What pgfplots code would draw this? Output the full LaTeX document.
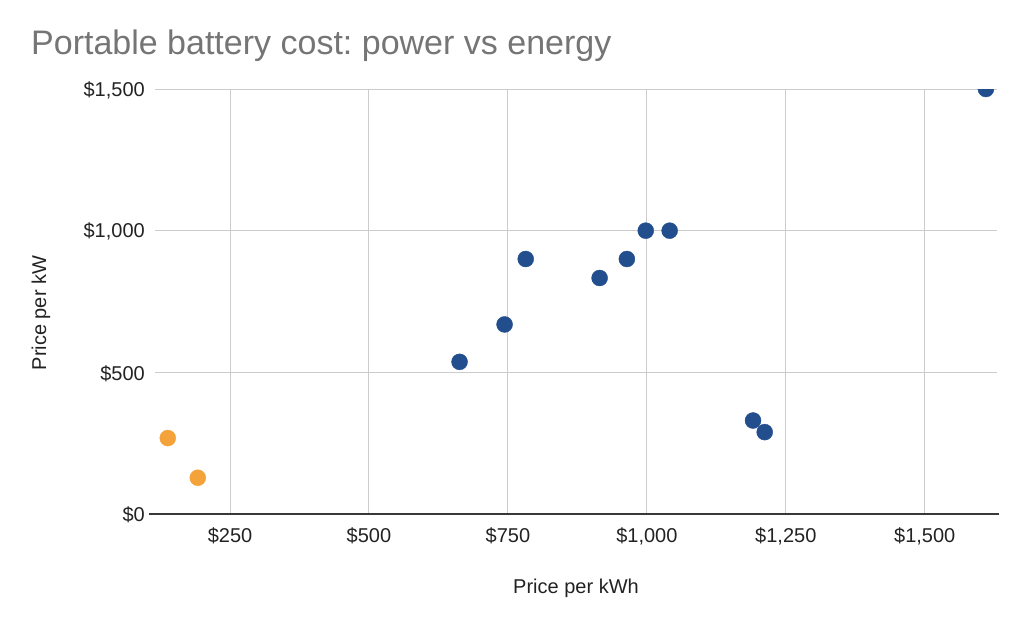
\documentclass[border=0pt]{standalone}
\usepackage{fontspec}
\setmainfont{Liberation Sans}
\usepackage{pgfplots}
\pgfplotsset{compat=1.18}
\frenchspacing
\definecolor{seriesblue}{HTML}{224E8E}
\definecolor{seriesorange}{HTML}{F3A33A}
\definecolor{gridgray}{HTML}{CCCCCC}
\definecolor{titlegray}{HTML}{757575}
\definecolor{textdark}{HTML}{222222}
\begin{document}
\begin{tikzpicture}
\useasboundingbox (0,0) rectangle (1024pt,-626pt);
% chart title
\node[anchor=base west, font=\fontsize{34}{40}\selectfont, text=titlegray, inner sep=0pt]
  at (31pt,-55pt) {Portable battery cost: power vs energy};
\begin{axis}[
  at={(155pt,-89pt)}, anchor=north west,
  scale only axis, width=842pt, height=425pt,
  xmin=115, xmax=1630, ymin=0, ymax=1500,
  axis x line*=bottom, axis y line*=left,
  x axis line style={-, draw=textdark!90, line width=1.6pt, shorten <=-6pt, shorten >=-2pt},
  y axis line style={draw=none},
  major tick length=0pt,
  grid=major, major grid style={gridgray, line width=1pt},
  xtick={250,500,750,1000,1250,1500},
  xticklabels={\$250,\$500,\$750,{\$1,000},{\$1,250},{\$1,500}},
  ytick={0,500,1000,1500},
  yticklabels={\$0,\$500,{\$1,000},{\$1,500}},
  tick label style={font=\fontsize{20}{24}\selectfont, text=textdark, inner sep=0pt},
  xticklabel style={anchor=base, yshift=-28pt},
  yticklabel style={anchor=east, xshift=-10pt, yshift=-1pt},
  xlabel={Price per kWh},
  xlabel style={font=\fontsize{20}{24}\selectfont, text=textdark, inner sep=0pt,
    at={(axis description cs:0.5,0)}, anchor=base, yshift=-79pt},
  clip mode=individual,
  clip marker paths=true,
]
% lower-cost packs
\addplot[only marks, mark=*, mark size=8pt, color=seriesorange] coordinates {
  (138,268) (192,128)
};
% remaining packs
\addplot[only marks, mark=*, mark size=8pt, color=seriesblue] coordinates {
  (663,537) (744,669) (782,900) (915,833) (964,900)
  (998,1000) (1041,1000) (1191,330) (1212,289) (1610,1500)
};
\end{axis}
% y axis title
\node[rotate=90, anchor=base, font=\fontsize{20}{24}\selectfont, text=textdark, inner sep=0pt]
  at (46pt,-313pt) {Price per kW};
\end{tikzpicture}
\end{document}
